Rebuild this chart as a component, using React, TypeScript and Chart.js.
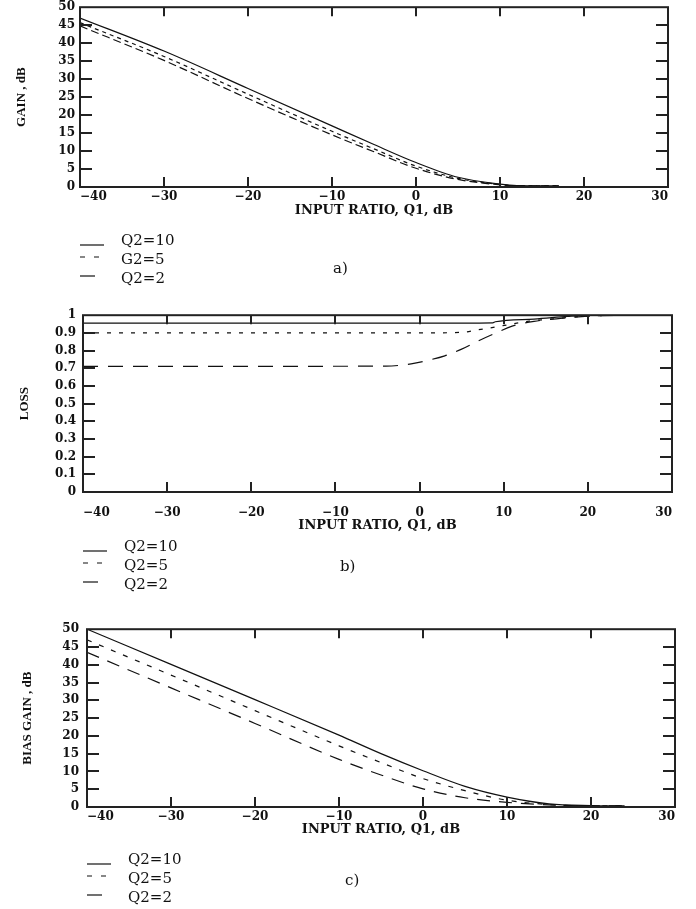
import React, { useEffect, useRef } from "react";
import { Chart, registerables } from "chart.js";

Chart.register(...registerables);

// ---------- a) GAIN ----------
const gainX = [-40, -30, -20, -10, -5, 0, 5, 10, 12, 17];
const gainQ10 = [47, 37.8, 27.4, 17, 11.8, 6.8, 2.7, 0.8, 0.4, 0.3];
const gainQ5 = [45.7, 36.3, 25.8, 15.5, 10.6, 5.8, 2.4, 0.7, 0.35, 0.3];
const gainQ2 = [44.8, 35.2, 24.6, 14.5, 9.8, 5.2, 2.1, 0.6, 0.3, 0.3];

// ---------- b) LOSS ----------
const lossQ10X = [-40, 0, 8.7, 9, 13.6, 17.6, 20, 25];
const lossQ10 = [0.955, 0.955, 0.957, 0.963, 0.978, 0.993, 0.999, 1];
const lossQ5X = [-40, 0, 5, 7, 9, 11, 13, 16, 20, 25];
const lossQ5 = [0.9, 0.9, 0.903, 0.918, 0.933, 0.95, 0.966, 0.98, 0.995, 1];
const lossQ2X = [-40, -4, -1, 1, 3, 5, 7, 9, 11, 13.6, 17, 20, 25];
const lossQ2 = [0.71, 0.712, 0.725, 0.745, 0.77, 0.808, 0.855, 0.898, 0.938, 0.965, 0.983, 0.995, 1];

// ---------- c) BIAS GAIN ----------
const biasX = [-40, -30, -20, -10, -5, 0, 5, 10, 15, 20, 24];
const biasQ10 = [50, 40.1, 30.2, 20.2, 15, 10.2, 5.8, 2.8, 0.9, 0.4, 0.3];
const biasQ5 = [47, 37.1, 27.1, 17.2, 12.5, 8, 4.6, 1.9, 0.7, 0.3, 0.3];
const biasQ2 = [43.5, 33.5, 23.5, 13.4, 9, 5.1, 2.6, 1.3, 0.6, 0.3, 0.3];

// ---------- axes / labels ----------
const xMin = -40;
const xMax = 30;
const xStep = 10;
const xTitle = "INPUT RATIO, Q1, dB";
const legendLabelsA = ["Q2=10", "G2=5", "Q2=2"];
const legendLabelsB = ["Q2=10", "Q2=5", "Q2=2"];
const legendLabelsC = ["Q2=10", "Q2=5", "Q2=2"];

const zip = (xs: number[], ys: number[]) => xs.map((x, i) => ({ x, y: ys[i] }));

const TICK_FONT = { family: "'DejaVu Serif', serif", size: 12, weight: "bold" as const };
const TITLE_FONT = { family: "'Liberation Serif', serif", size: 13, weight: "bold" as const };
const XTITLE_FONT = { family: "'DejaVu Serif', serif", size: 13, weight: "bold" as const };

const framePlugin = {
  id: "frameTicks",
  afterDatasetsDraw(chart: any) {
    const { ctx, chartArea } = chart;
    const { left, right, top, bottom } = chartArea;
    const xs = chart.scales.x;
    const ys = chart.scales.y;
    ctx.save();
    ctx.strokeStyle = "#222";
    ctx.lineWidth = 2;
    ctx.beginPath();
    xs.ticks.forEach((t: any) => {
      if (t.value > xs.min && t.value < xs.max) {
        const px = Math.round(xs.getPixelForValue(t.value));
        ctx.moveTo(px, bottom);
        ctx.lineTo(px, bottom - 10);
        ctx.moveTo(px, top);
        ctx.lineTo(px, top + 9);
      }
    });
    ys.ticks.forEach((t: any) => {
      if (t.value > ys.min + 1e-9 && t.value < ys.max - 1e-9) {
        const py = Math.round(ys.getPixelForValue(t.value));
        ctx.moveTo(left, py);
        ctx.lineTo(left + 12, py);
        ctx.moveTo(right, py);
        ctx.lineTo(right - 12, py);
      }
    });
    ctx.stroke();
    ctx.strokeRect(left, top, right - left, bottom - top);
    ctx.restore();
  },
};

type Panel = {
  top: number;
  height: number;
  yWidth: number;
  xHeight: number;
  padRight: number;
  yTitle: string;
  yTitlePad: number;
  xTitlePad: number;
  xTickPad: number;
  yTickPad: number;
  yMax: number;
  yStep: number;
  yFormat?: (v: number) => string;
  datasets: any[];
};

function ChartPanel(p: Panel) {
  const ref = useRef<HTMLCanvasElement | null>(null);
  useEffect(() => {
    if (!ref.current) return;
    const chart = new Chart(ref.current, {
      type: "line",
      data: { datasets: p.datasets },
      options: {
        responsive: false,
        animation: false,
        devicePixelRatio: 1,
        layout: { padding: { left: 0, right: p.padRight, top: 10, bottom: 0 } },
        plugins: { legend: { display: false }, tooltip: { enabled: false } },
        elements: { point: { radius: 0 } },
        scales: {
          x: {
            type: "linear",
            min: xMin,
            max: xMax,
            grid: { display: false, drawTicks: false },
            border: { display: false },
            afterFit: (s: any) => {
              s.height = p.xHeight;
            },
            ticks: {
              stepSize: xStep,
              align: "inner",
              padding: p.xTickPad,
              color: "#111",
              font: TICK_FONT,
              maxRotation: 0,
              callback: (v: any) => (Number(v) < 0 ? "\u2212" + Math.abs(Number(v)) : String(v)),
            },
            title: {
              display: true,
              text: xTitle,
              color: "#111",
              font: XTITLE_FONT,
              padding: { top: 0, bottom: p.xTitlePad },
            },
          },
          y: {
            type: "linear",
            min: 0,
            max: p.yMax,
            grid: { display: false, drawTicks: false },
            border: { display: false },
            afterFit: (s: any) => {
              s.width = p.yWidth;
            },
            ticks: {
              stepSize: p.yStep,
              padding: p.yTickPad,
              color: "#111",
              font: TICK_FONT,
              callback: (v: any) => (p.yFormat ? p.yFormat(Number(v)) : String(v)),
            },
            title: {
              display: true,
              text: p.yTitle,
              color: "#111",
              font: TITLE_FONT,
              padding: { top: p.yTitlePad, bottom: 0 },
            },
          },
        },
      },
      plugins: [framePlugin],
    });
    return () => chart.destroy();
  }, []);
  return (
    <canvas
      ref={ref}
      width={696}
      height={p.height}
      style={{ position: "absolute", left: 0, top: p.top, width: 696, height: p.height }}
    />
  );
}

const line = (data: any[], dash: number[]) => ({
  data,
  borderColor: "#111",
  borderWidth: 1.2,
  borderDash: dash,
  fill: false,
  cubicInterpolationMode: "monotone",
  pointRadius: 0,
});

function Legend({
  x,
  textX,
  rows,
  labels,
  caption,
  captionX,
  captionY,
}: {
  x: number;
  textX: number;
  rows: number[];
  labels: string[];
  caption: string;
  captionX: number;
  captionY: number;
}) {
  const textStyle: React.CSSProperties = {
    position: "absolute",
    fontFamily: "'DejaVu Serif', serif",
    fontSize: 15,
    lineHeight: "18px",
    color: "#111",
    whiteSpace: "nowrap",
  };
  return (
    <>
      <svg style={{ position: "absolute", left: 0, top: 0 }} width={696} height={909}>
        <line x1={x} x2={x + 24} y1={rows[0] + 5} y2={rows[0] + 5} stroke="#111" strokeWidth={1.2} />
        <line
          x1={x}
          x2={x + 19}
          y1={rows[1] - 2}
          y2={rows[1] - 2}
          stroke="#111"
          strokeWidth={1.2}
          strokeDasharray="5 9"
        />
        <line x1={x} x2={x + 15} y1={rows[2] - 2} y2={rows[2] - 2} stroke="#111" strokeWidth={1.2} />
      </svg>
      {labels.map((l, i) => (
        <div key={i} style={{ ...textStyle, left: textX, top: rows[i] - 9 }}>
          {l}
        </div>
      ))}
      <div style={{ ...textStyle, left: captionX, top: captionY - 9 }}>{caption}</div>
    </>
  );
}

export default function App() {
  const lossFmt = (v: number) => (v === 0 || v === 1 ? String(v) : v.toFixed(1));
  return (
    <div
      style={{
        position: "absolute",
        left: 0,
        top: 0,
        width: 696,
        height: 909,
        background: "#fff",
        overflow: "hidden",
      }}
    >
      <ChartPanel
        top={-5}
        height={230}
        yWidth={80}
        xHeight={38}
        padRight={28}
        yTitle="GAIN , dB"
        yTitlePad={14}
        xTitlePad={7}
        xTickPad={3}
        yTickPad={5}
        yMax={50}
        yStep={5}
        datasets={[
          line(zip(gainX, gainQ10), []),
          line(zip(gainX, gainQ5), [4, 4]),
          line(zip(gainX, gainQ2), [8, 4]),
        ]}
      />
      <Legend
        x={80}
        textX={121}
        rows={[240, 259, 278]}
        labels={legendLabelsA}
        caption="a)"
        captionX={333}
        captionY={268}
      />

      <ChartPanel
        top={301}
        height={240}
        yWidth={83}
        xHeight={49}
        padRight={24}
        yTitle="LOSS"
        yTitlePad={17}
        xTitlePad={8}
        xTickPad={14}
        yTickPad={7}
        yMax={1}
        yStep={0.1}
        yFormat={lossFmt}
        datasets={[
          line(zip(lossQ10X, lossQ10), []),
          line(zip(lossQ5X, lossQ5), [4, 8]),
          line(zip(lossQ2X, lossQ2), [15, 10]),
        ]}
      />
      <Legend
        x={83}
        textX={124}
        rows={[546, 565, 584]}
        labels={legendLabelsB}
        caption="b)"
        captionX={340}
        captionY={566}
      />

      <ChartPanel
        top={614}
        height={230}
        yWidth={87}
        xHeight={37}
        padRight={21}
        yTitle="BIAS GAIN , dB"
        yTitlePad={20}
        xTitlePad={7}
        xTickPad={3}
        yTickPad={8}
        yMax={50}
        yStep={5}
        datasets={[
          line(zip(biasX, biasQ10), []),
          line(zip(biasX, biasQ5), [5, 8]),
          line(zip(biasX, biasQ2), [13, 9]),
        ]}
      />
      <Legend
        x={87}
        textX={128}
        rows={[859, 878, 897]}
        labels={legendLabelsC}
        caption="c)"
        captionX={345}
        captionY={880}
      />
    </div>
  );
}
